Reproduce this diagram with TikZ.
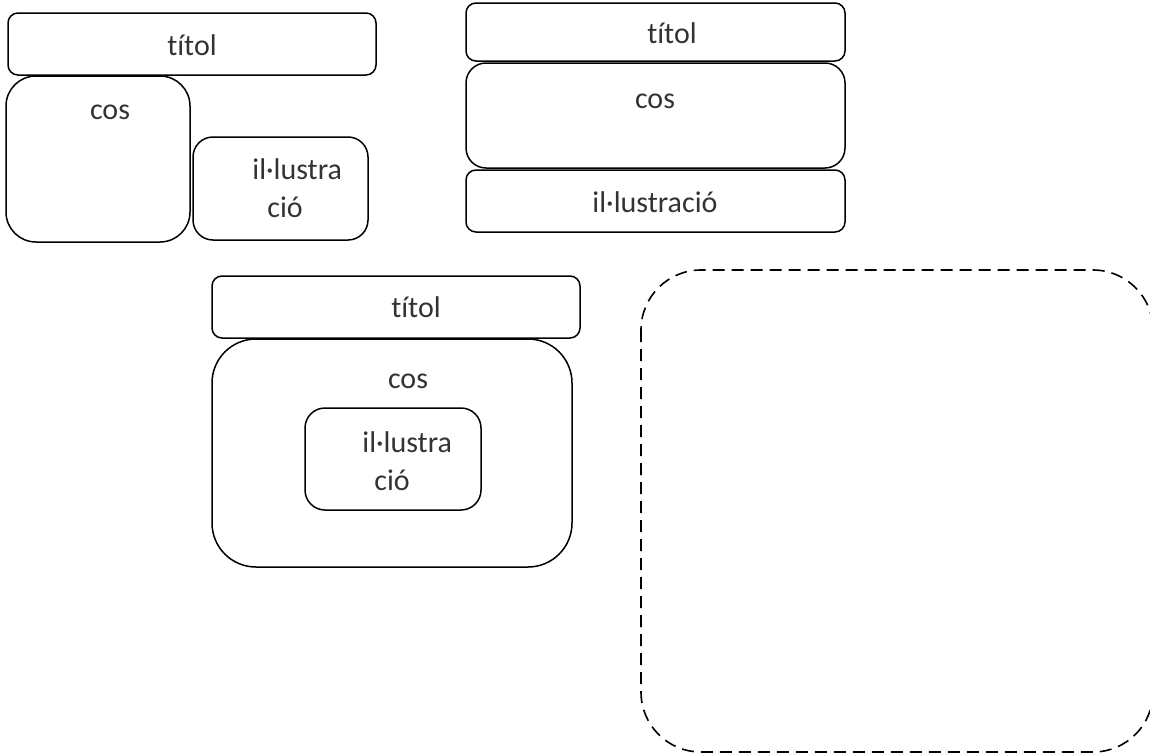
\documentclass[tikz,border=0pt]{standalone}
\usepackage{fontspec}
\setmainfont{Carlito}[Ligatures=NoCommon]
\usepackage{tikz}

\begin{document}
\begin{tikzpicture}[
  x=0.5pt, y=-0.5pt,
  box/.style={draw, line width=0.75pt},
  dashbox/.style={draw, line width=0.8pt, dash pattern=on 6pt off 3.5pt},
  lbl/.style={font=\fontsize{15}{17}\selectfont, text=black!80, inner sep=0pt},
  lbl2/.style={lbl, align=left}
  ]
\useasboundingbox (0,0) rectangle (1150,755);
\clip (0,0) rectangle (1150,755);

% Layout 1: side by side
\draw[box, rounded corners=5pt] (8,13) rectangle (376,75);
\draw[box, rounded corners=15pt] (6,76) rectangle (190,242);
\draw[box, rounded corners=10pt] (193,137) rectangle (368,240);
\node[lbl] (titol1) at (192,45) {títol};
\node[lbl] (cos1) at (110,112) {cos};
\node[lbl2, anchor=north west] (ill1) at (252,158) {il·lustra\\[2pt]\hspace*{0.5em}ció};

% Layout 2: stacked
\draw[box, rounded corners=5pt] (466,3) rectangle (845,61);
\draw[box, rounded corners=10pt] (466,63) rectangle (845,168);
\draw[box, rounded corners=5pt] (466,170) rectangle (845,232);
\node[lbl] (titol2) at (672,33) {títol};
\node[lbl] (cos2) at (655,101) {cos};
\node[lbl] (ill2) at (655,202) {il·lustració};

% Layout 3: nested
\draw[box, rounded corners=5pt] (212,276) rectangle (580,338);
\draw[box, rounded corners=22pt] (212,339) rectangle (572,567);
\draw[box, rounded corners=10pt] (305,408) rectangle (481,510);
\node[lbl] (titol3) at (416,307) {títol};
\node[lbl] (cos3) at (408,381) {cos};
\node[lbl2, anchor=north west] (ill3) at (362,431) {il·lustra\\[2pt]\hspace*{0.4em}ció};

% Empty frame
\draw[dashbox, rounded corners=30pt] (641,270) rectangle (1153,752);

\end{tikzpicture}
\end{document}
